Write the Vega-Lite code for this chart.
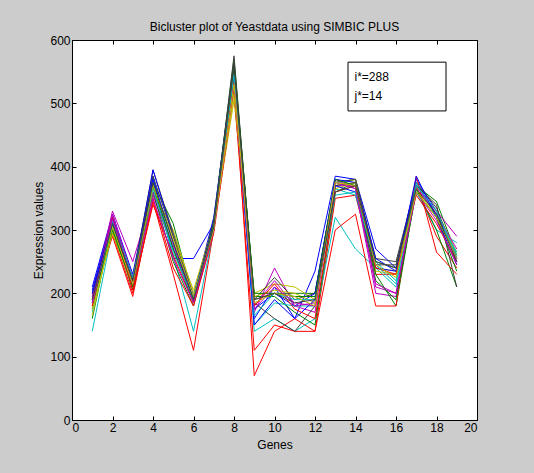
{
  "$schema": "https://vega.github.io/schema/vega-lite/v6.json",
  "width": 405,
  "height": 380,
  "autosize": {"type": "none"},
  "padding": {"left": 72, "top": 40, "right": 57, "bottom": 53},
  "background": "#cccccc",
  "config": {
    "view": {"stroke": "#000000", "strokeWidth": 1, "fill": "#ffffff"},
    "font": "Liberation Sans",
    "axis": {
      "domain": false,
      "grid": false,
      "tickColor": "#000000",
      "tickSize": -4,
      "labelFont": "Liberation Sans",
      "labelFontSize": 12,
      "labelColor": "#000000",
      "titleFont": "Liberation Sans",
      "titleFontSize": 12,
      "titleFontWeight": "normal",
      "titleColor": "#000000"
    }
  },
  "title": {"text": "Bicluster plot of Yeastdata using SIMBIC PLUS", "font": "Liberation Sans", "fontSize": 12, "fontWeight": "normal", "color": "#000000", "frame": "group", "anchor": "middle", "baseline": "alphabetic", "dy": 13},
  "datasets": {
    "genes": [
      {"gene": 1, "b1": 210, "g1": 160, "r1": 180, "c1": 140, "m1": 190, "y1": 180, "k1": 195, "b2": 205, "g2": 175, "r2": 190, "c2": 170, "m2": 195, "y2": 175, "k2": 200, "b3": 200, "g3": 185, "r3": 180, "c3": 185, "m3": 185, "y3": 165, "k3": 190},
      {"gene": 2, "b1": 325, "g1": 310, "r1": 295, "c1": 300, "m1": 330, "y1": 300, "k1": 320, "b2": 320, "g2": 305, "r2": 290, "c2": 310, "m2": 325, "y2": 295, "k2": 315, "b3": 315, "g3": 300, "r3": 320, "c3": 315, "m3": 318, "y3": 305, "k3": 310},
      {"gene": 3, "b1": 230, "g1": 215, "r1": 200, "c1": 210, "m1": 250, "y1": 215, "k1": 225, "b2": 220, "g2": 205, "r2": 195, "c2": 220, "m2": 225, "y2": 210, "k2": 220, "b3": 215, "g3": 210, "r3": 205, "c3": 225, "m3": 215, "y3": 215, "k3": 220},
      {"gene": 4, "b1": 385, "g1": 375, "r1": 345, "c1": 370, "m1": 355, "y1": 360, "k1": 395, "b2": 395, "g2": 360, "r2": 350, "c2": 380, "m2": 360, "y2": 365, "k2": 385, "b3": 380, "g3": 370, "r3": 340, "c3": 365, "m3": 350, "y3": 370, "k3": 375},
      {"gene": 5, "b1": 255, "g1": 310, "r1": 230, "c1": 260, "m1": 270, "y1": 300, "k1": 295, "b2": 290, "g2": 250, "r2": 240, "c2": 270, "m2": 275, "y2": 290, "k2": 290, "b3": 280, "g3": 270, "r3": 260, "c3": 265, "m3": 255, "y3": 285, "k3": 280},
      {"gene": 6, "b1": 255, "g1": 190, "r1": 110, "c1": 140, "m1": 185, "y1": 200, "k1": 195, "b2": 195, "g2": 180, "r2": 180, "c2": 195, "m2": 190, "y2": 205, "k2": 190, "b3": 190, "g3": 185, "r3": 185, "c3": 190, "m3": 185, "y3": 195, "k3": 190},
      {"gene": 7, "b1": 310, "g1": 315, "r1": 300, "c1": 300, "m1": 300, "y1": 305, "k1": 310, "b2": 320, "g2": 305, "r2": 295, "c2": 310, "m2": 305, "y2": 310, "k2": 315, "b3": 310, "g3": 310, "r3": 305, "c3": 305, "m3": 300, "y3": 300, "k3": 305},
      {"gene": 8, "b1": 525, "g1": 570, "r1": 545, "c1": 550, "m1": 540, "y1": 505, "k1": 575, "b2": 560, "g2": 565, "r2": 520, "c2": 555, "m2": 550, "y2": 515, "k2": 565, "b3": 540, "g3": 555, "r3": 535, "c3": 545, "m3": 530, "y3": 530, "k3": 560},
      {"gene": 9, "b1": 160, "g1": 190, "r1": 70, "c1": 140, "m1": 170, "y1": 200, "k1": 190, "b2": 175, "g2": 195, "r2": 110, "c2": 150, "m2": 180, "y2": 195, "k2": 185, "b3": 150, "g3": 200, "r3": 180, "c3": 165, "m3": 175, "y3": 185, "k3": 190},
      {"gene": 10, "b1": 210, "g1": 200, "r1": 140, "c1": 160, "m1": 240, "y1": 215, "k1": 225, "b2": 200, "g2": 195, "r2": 150, "c2": 185, "m2": 220, "y2": 205, "k2": 160, "b3": 190, "g3": 200, "r3": 215, "c3": 200, "m3": 210, "y3": 200, "k3": 200},
      {"gene": 11, "b1": 160, "g1": 200, "r1": 160, "c1": 140, "m1": 180, "y1": 210, "k1": 190, "b2": 180, "g2": 170, "r2": 140, "c2": 180, "m2": 180, "y2": 200, "k2": 140, "b3": 160, "g3": 195, "r3": 175, "c3": 190, "m3": 185, "y3": 195, "k3": 185},
      {"gene": 12, "b1": 235, "g1": 200, "r1": 140, "c1": 160, "m1": 170, "y1": 190, "k1": 200, "b2": 200, "g2": 150, "r2": 140, "c2": 180, "m2": 185, "y2": 185, "k2": 180, "b3": 190, "g3": 195, "r3": 160, "c3": 190, "m3": 180, "y3": 180, "k3": 190},
      {"gene": 13, "b1": 385, "g1": 375, "r1": 350, "c1": 320, "m1": 380, "y1": 370, "k1": 375, "b2": 380, "g2": 360, "r2": 300, "c2": 365, "m2": 370, "y2": 365, "k2": 370, "b3": 370, "g3": 380, "r3": 360, "c3": 355, "m3": 375, "y3": 375, "k3": 360},
      {"gene": 14, "b1": 380, "g1": 380, "r1": 355, "c1": 270, "m1": 365, "y1": 380, "k1": 380, "b2": 375, "g2": 375, "r2": 325, "c2": 355, "m2": 370, "y2": 375, "k2": 375, "b3": 360, "g3": 370, "r3": 370, "c3": 360, "m3": 365, "y3": 370, "k3": 370},
      {"gene": 15, "b1": 270, "g1": 250, "r1": 230, "c1": 240, "m1": 200, "y1": 235, "k1": 255, "b2": 255, "g2": 230, "r2": 180, "c2": 250, "m2": 210, "y2": 240, "k2": 245, "b3": 240, "g3": 220, "r3": 240, "c3": 245, "m3": 215, "y3": 245, "k3": 250},
      {"gene": 16, "b1": 240, "g1": 240, "r1": 230, "c1": 210, "m1": 195, "y1": 230, "k1": 250, "b2": 235, "g2": 180, "r2": 180, "c2": 220, "m2": 200, "y2": 235, "k2": 245, "b3": 235, "g3": 190, "r3": 230, "c3": 215, "m3": 200, "y3": 225, "k3": 240},
      {"gene": 17, "b1": 380, "g1": 370, "r1": 370, "c1": 360, "m1": 365, "y1": 370, "k1": 375, "b2": 375, "g2": 365, "r2": 385, "c2": 375, "m2": 370, "y2": 365, "k2": 370, "b3": 385, "g3": 360, "r3": 355, "c3": 370, "m3": 360, "y3": 360, "k3": 365},
      {"gene": 18, "b1": 330, "g1": 345, "r1": 290, "c1": 300, "m1": 330, "y1": 330, "k1": 335, "b2": 325, "g2": 300, "r2": 265, "c2": 320, "m2": 325, "y2": 320, "k2": 340, "b3": 320, "g3": 320, "r3": 310, "c3": 330, "m3": 315, "y3": 320, "k3": 325},
      {"gene": 19, "b1": 250, "g1": 260, "r1": 240, "c1": 280, "m1": 290, "y1": 265, "k1": 255, "b2": 255, "g2": 210, "r2": 230, "c2": 265, "m2": 270, "y2": 260, "k2": 210, "b3": 245, "g3": 235, "r3": 250, "c3": 260, "m3": 245, "y3": 255, "k3": 250}
    ],
    "box": [{"x1": 13.63, "x2": 18.47, "v1": 565, "v2": 488}],
    "labels": [{"x": 13.95, "v": 541, "t": "i*=288"}, {"x": 13.95, "v": 512, "t": "j*=14"}]
  },
  "layer": [
    {
      "data": {"name": "genes"},
      "transform": [{"fold": ["b1","g1","r1","c1","m1","y1","k1","b2","g2","r2","c2","m2","y2","k2","b3","g3","r3","c3","m3","y3","k3"], "as": ["series", "value"]}],
      "mark": {"type": "line", "strokeWidth": 1, "clip": true},
      "encoding": {
        "x": {"field": "gene", "type": "quantitative", "scale": {"domain": [0, 20], "nice": false, "zero": false},
              "axis": {"orient": "bottom", "values": [0,2,4,6,8,10,12,14,16,18,20], "title": "Genes", "labelPadding": 6, "titlePadding": 6}},
        "y": {"field": "value", "type": "quantitative", "scale": {"domain": [0, 600], "nice": false},
              "axis": {"orient": "left", "values": [0,100,200,300,400,500,600], "title": "Expression values", "labelPadding": 6, "titlePadding": 4}},
        "color": {"field": "series", "type": "nominal", "legend": null,
          "scale": {"domain": ["b1","g1","r1","c1","m1","y1","k1","b2","g2","r2","c2","m2","y2","k2","b3","g3","r3","c3","m3","y3","k3"],
                    "range": ["#0000ff","#008000","#ff0000","#00bfbf","#bf00bf","#bfbf00","#404040","#0000ff","#008000","#ff0000","#00bfbf","#bf00bf","#bfbf00","#404040","#0000ff","#008000","#ff0000","#00bfbf","#bf00bf","#bfbf00","#404040"]}}
      }
    },
    {
      "data": {"name": "genes"},
      "mark": {"type": "point", "opacity": 0},
      "encoding": {
        "x": {"field": "gene", "type": "quantitative", "axis": {"orient": "top", "values": [0,2,4,6,8,10,12,14,16,18,20], "labels": false, "title": null}},
        "y": {"field": "b1", "type": "quantitative", "axis": {"orient": "right", "values": [0,100,200,300,400,500,600], "labels": false, "title": null}}
      }
    },
    {
      "data": {"name": "box"},
      "mark": {"type": "rect", "fill": "#ffffff", "stroke": "#000000", "strokeWidth": 1},
      "encoding": {
        "x": {"field": "x1", "type": "quantitative", "axis": null},
        "x2": {"field": "x2"},
        "y": {"field": "v1", "type": "quantitative", "axis": null},
        "y2": {"field": "v2"}
      }
    },
    {
      "data": {"name": "labels"},
      "mark": {"type": "text", "align": "left", "baseline": "middle", "fontSize": 12, "font": "Liberation Sans", "color": "#000000"},
      "encoding": {
        "x": {"field": "x", "type": "quantitative", "axis": null},
        "y": {"field": "v", "type": "quantitative", "axis": null},
        "text": {"field": "t", "type": "nominal"}
      }
    }
  ],
  "resolve": {"axis": {"x": "independent", "y": "independent"}}
}
